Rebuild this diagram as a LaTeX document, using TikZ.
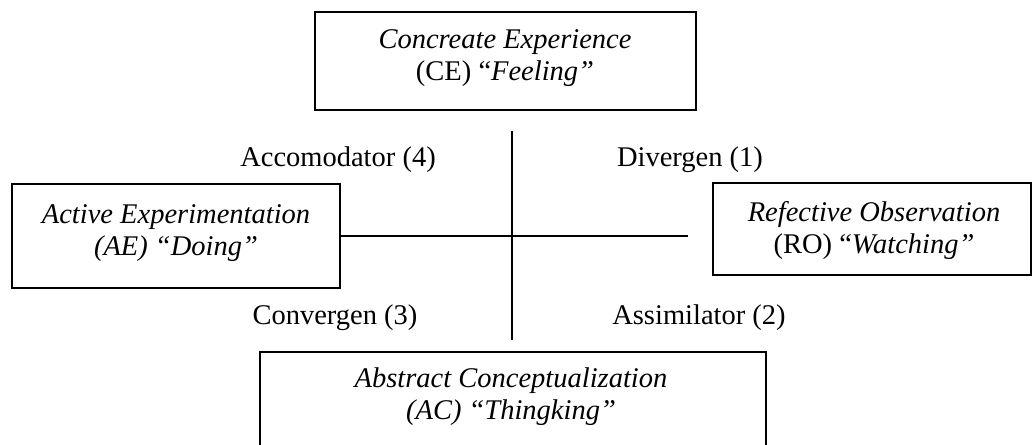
\documentclass[tikz,border=0pt]{standalone}
\usepackage{fontspec}
\setmainfont{Liberation Serif}
\begin{document}
\begin{tikzpicture}[x=1pt,y=-1pt,
  box/.style={draw, line width=2pt, inner sep=0pt},
  txt/.style={align=center, inner sep=0pt, font=\fontsize{28.5}{32}\selectfont},
  txti/.style={align=center, inner sep=0pt, font=\fontsize{28.5}{32}\selectfont\itshape},
  lbl/.style={inner sep=0pt, anchor=base, font=\fontsize{28.5}{32}\selectfont},
  axis/.style={line width=2pt}]
\useasboundingbox (0,0) rectangle (1032,444);
\clip (0,0) rectangle (1032,444);
% boxes
\node[box, minimum width=381pt, minimum height=98pt] (CE) at (505.5,61) {};
\node[box, minimum width=328pt, minimum height=104pt] (AE) at (176,236) {};
\node[box, minimum width=318pt, minimum height=92pt] (RO) at (872,229) {};
\node[box, minimum width=506pt, minimum height=118pt] (AC) at (513,411) {};
% box texts
\node[txt] (CEt) at (505,58) {\textit{Concreate Experience}\\(CE) “\textit{Feeling”}};
\node[txti] (AEt) at (176,233) {Active Experimentation\\(AE) “Doing”};
\node[txt] (ROt) at (874,230) {\textit{Refective Observation}\\(RO) “\textit{Watching”}};
\node[txti] (ACt) at (511,397) {Abstract Conceptualization\\(AC) “Thingking”};
% cross
\coordinate (hEnd) at (688,236);
\coordinate (vTop) at (512,131);
\coordinate (vBot) at (512,340);
\draw[axis] (AE.east) -- (hEnd);
\draw[axis] (vTop) -- (vBot);
% quadrant labels
\node[lbl] (acc) at (338,166) {Accomodator (4)};
\node[lbl] (div) at (690,166) {Divergen (1)};
\node[lbl] (con) at (335,324) {Convergen (3)};
\node[lbl] (ass) at (699,324) {Assimilator (2)};
\end{tikzpicture}
\end{document}
